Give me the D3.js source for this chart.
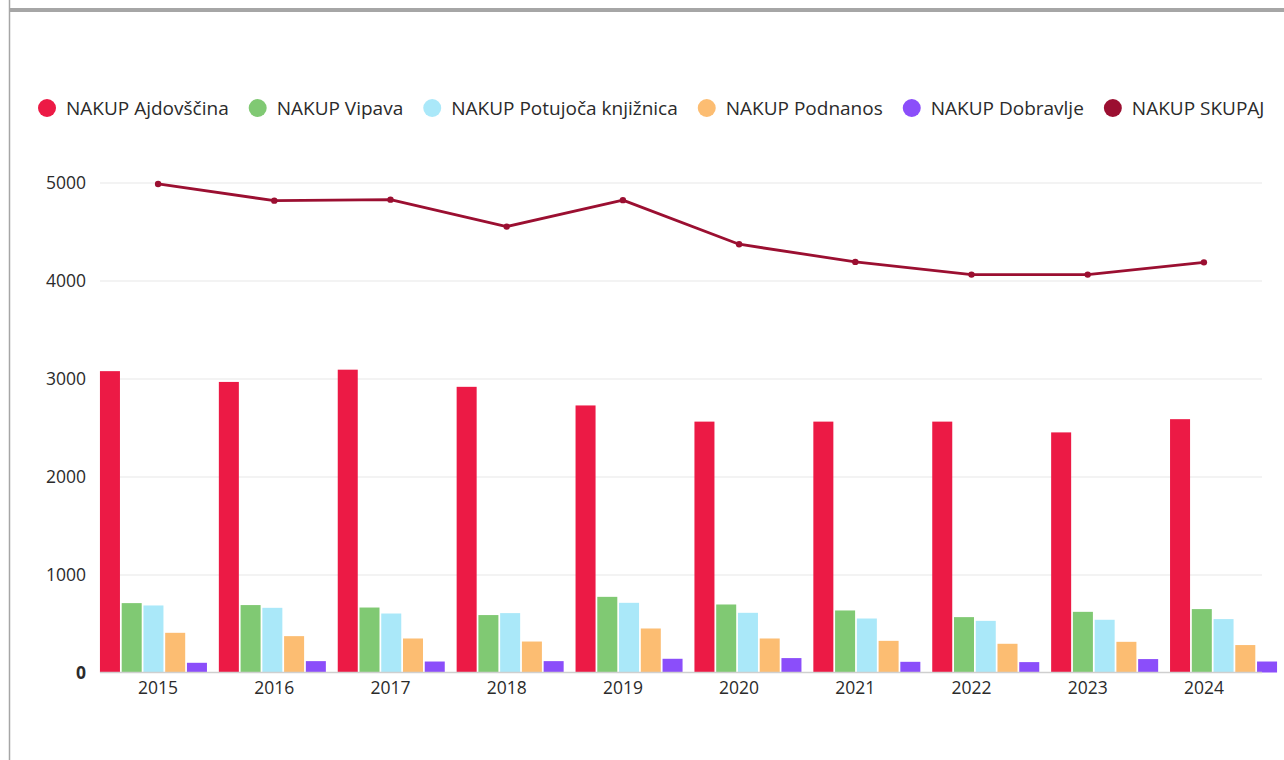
<!DOCTYPE html>
<html>
<head>
<meta charset="utf-8">
<script src="https://cdn.jsdelivr.net/npm/d3@7"></script>
<style>
  body { margin: 0; background: #fff; }
  svg { display: block; font-family: "Open Sans", sans-serif; }
</style>
</head>
<body>
<div id="chart"></div>
<script>
// podatki
const years = ['2015', '2016', '2017', '2018', '2019', '2020', '2021', '2022', '2023', '2024'];
const ajdovscina = [3075, 2965, 3090, 2915, 2725, 2560, 2560, 2560, 2450, 2585];
const vipava = [708, 688, 663, 586, 772, 694, 633, 565, 619, 647];
const potujoca = [684, 660, 602, 606, 711, 609, 551, 527, 538, 545];
const podnanos = [405, 371, 347, 316, 449, 347, 323, 293, 313, 280];
const dobravlje = [99, 116, 112, 116, 140, 147, 109, 106, 137, 112];
const skupaj = [4985, 4815, 4825, 4550, 4820, 4370, 4190, 4060, 4060, 4185];
const yTicks = [0, 1000, 2000, 3000, 4000, 5000];

const barSeries = [
  { name: 'NAKUP Ajdovščina', values: ajdovscina, color: '#ec1a45' },
  { name: 'NAKUP Vipava', values: vipava, color: '#80c973' },
  { name: 'NAKUP Potujoča knjižnica', values: potujoca, color: '#aae8f9' },
  { name: 'NAKUP Podnanos', values: podnanos, color: '#fcbd72' },
  { name: 'NAKUP Dobravlje', values: dobravlje, color: '#8b4efa' }
];
const lineSeries = { name: 'NAKUP SKUPAJ', values: skupaj, color: '#9b0f31' };

const width = 1284, height = 760;
const plotLeft = 100, plotRight = 1262;

const svg = d3.select('#chart').append('svg')
  .attr('width', width)
  .attr('height', height);

// okvir
svg.append('line')
  .attr('x1', 9.5).attr('x2', 9.5).attr('y1', 0).attr('y2', height)
  .attr('stroke', '#a6a6a6').attr('stroke-width', 1.5);
svg.append('rect')
  .attr('x', 9).attr('y', 8).attr('width', width - 9).attr('height', 4)
  .attr('fill', '#a6a6a6');

const y = d3.scaleLinear().domain([0, 5000]).range([672.5, 182.5]);

// skala za oznake in črto
const xLab = d3.scaleBand().domain(years).range([plotLeft, plotRight]);
// skala za stolpce (malo širša)
const x0 = d3.scaleBand().domain(years).range([94, 1283]).paddingInner(0.1).paddingOuter(0.05);
const x1 = d3.scaleBand().domain(d3.range(barSeries.length)).range([0, x0.bandwidth()]).paddingInner(0.08);

// mreža
svg.append('g')
  .attr('transform', `translate(${plotLeft},0)`)
  .call(d3.axisLeft(y).tickValues(yTicks.filter(d => d > 0)).tickSize(-(plotRight - plotLeft)).tickFormat(''))
  .call(g => g.select('.domain').remove())
  .call(g => g.selectAll('line').attr('stroke', '#e8e8e8').attr('stroke-width', 1.2));

// stolpci
barSeries.forEach((s, si) => {
  svg.append('g').selectAll('rect')
    .data(s.values)
    .enter()
    .append('rect')
    .attr('x', (d, i) => x0(years[i]) + x1(si))
    .attr('y', d => y(d))
    .attr('width', x1.bandwidth())
    .attr('height', d => y(0) - y(d))
    .attr('fill', s.color);
});

// osnovna črta
svg.append('line')
  .attr('x1', plotLeft).attr('x2', plotRight)
  .attr('y1', y(0)).attr('y2', y(0))
  .attr('stroke', '#cfcfcf').attr('stroke-width', 1.5);

// črta SKUPAJ
const line = d3.line()
  .x((d, i) => xLab(years[i]) + xLab.bandwidth() / 2)
  .y(d => y(d));
svg.append('path')
  .datum(lineSeries.values)
  .attr('d', line)
  .attr('fill', 'none')
  .attr('stroke', lineSeries.color)
  .attr('stroke-width', 2.8)
  .attr('stroke-linejoin', 'round');
svg.append('g').selectAll('circle')
  .data(lineSeries.values)
  .enter()
  .append('circle')
  .attr('cx', (d, i) => xLab(years[i]) + xLab.bandwidth() / 2)
  .attr('cy', d => y(d))
  .attr('r', 3.2)
  .attr('fill', lineSeries.color);

// os Y
svg.append('g')
  .attr('transform', `translate(${plotLeft},0)`)
  .call(d3.axisLeft(y).tickValues(yTicks).tickSize(0).tickPadding(14).tickFormat(d3.format('d')))
  .call(g => g.select('.domain').remove())
  .call(g => g.selectAll('text')
    .attr('fill', '#2b2b2b')
    .style('font-family', '"Open Sans", sans-serif')
    .style('font-size', '17.5px')
    .style('font-weight', d => d === 0 ? 'bold' : 'normal'));

// os X
svg.append('g')
  .attr('transform', `translate(0,${y(0)})`)
  .call(d3.axisBottom(xLab).tickSize(0).tickPadding(9))
  .call(g => g.select('.domain').remove())
  .call(g => g.selectAll('text')
    .attr('fill', '#2b2b2b')
    .style('font-family', '"Open Sans", sans-serif')
    .style('font-size', '17.5px'));

// legenda
const legendItems = barSeries.concat([lineSeries]);
const legend = svg.append('g').attr('transform', 'translate(38,108)');
let lx = 0;
legendItems.forEach(s => {
  const item = legend.append('g').attr('transform', `translate(${lx},0)`);
  item.append('circle').attr('cx', 9).attr('cy', 0).attr('r', 9).attr('fill', s.color);
  const t = item.append('text')
    .attr('x', 28)
    .attr('dy', '0.35em')
    .attr('fill', '#2b2b2b')
    .style('font-size', '19px')
    .text(s.name);
  lx += 28 + t.node().getComputedTextLength() + 20;
});
</script>
</body>
</html>
